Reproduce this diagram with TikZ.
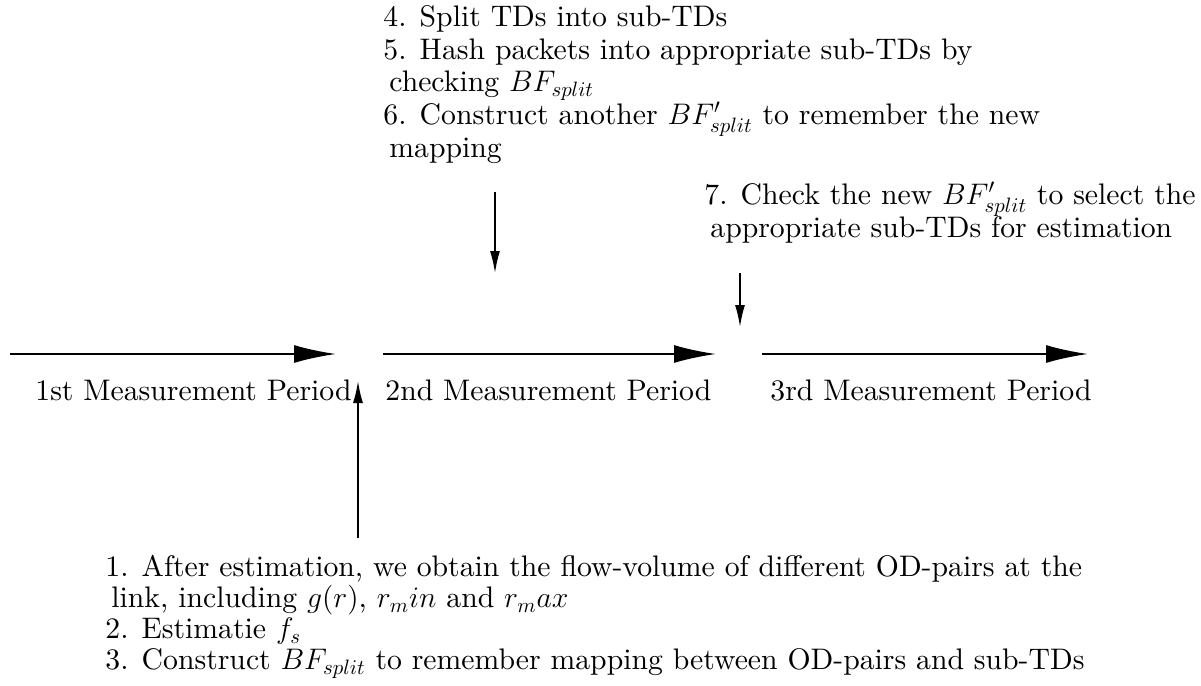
\RequirePackage{fix-cm}
\documentclass[tikz,border=0pt]{standalone}
\usepackage{fontspec}
\setmainfont{lmroman10}[Extension = .otf, UprightFont = *-regular, ItalicFont = *-italic, BoldFont = *-bold]
\usetikzlibrary{arrows.meta}

\begin{document}
\begin{tikzpicture}[x = 0.5pt, y = -0.5pt,
    every node/.style = {font = \fontsize{14.86}{16.4}\selectfont, inner sep = 0pt},
    period/.style = {anchor = base west},
    note/.style = {anchor = north west, align = left},
    timeline/.style = {-{Latex[length = 21pt, width = 9pt]}, line width = 1pt},
    pointer/.style = {-{Latex[length = 11pt, width = 5pt]}, line width = 0.8pt},
    ]
    \useasboundingbox (0,0) rectangle (1201,686);

    \node[period] (T1) at (35,400) {1st Measurement Period};
    \node[period] (T2) at (385,400) {2nd Measurement Period};
    \node[period] (T3) at (770,400) {3rd Measurement Period};

    \node[note] (S46) at (383,5) {4. Split TDs into sub-TDs\\
        5. Hash packets into appropriate sub-TDs by\\
        \hspace*{3pt}checking $BF_{split}$\\
        6. Construct another $BF'_{split}$ to remember the new\\
        \hspace*{3pt}mapping};
    \node[note] (S7) at (704,182) {7. Check the new $BF'_{split}$ to select the\\
        \hspace*{3pt}appropriate sub-TDs for estimation};
    \node[note, font = \fontsize{14.86}{15.5}\selectfont] (S13) at (105,555) {1. After estimation, we obtain the flow-volume of different OD-pairs at the\\
        \hspace*{3pt}link, including $g(r)$, $r_min$ and $r_max$\\
        2. Estimatie $f_s$\\
        3. Construct $BF_{split}$ to remember mapping between OD-pairs and sub-TDs};

    \coordinate (P1a) at (10,354);
    \coordinate (P1b) at (336,354);
    \coordinate (P2a) at (383,354);
    \coordinate (P2b) at (716,354);
    \coordinate (P3a) at (762,354);
    \coordinate (P3b) at (1088,354);
    \coordinate (U13) at (358,538);
    \coordinate (U1b) at (358,381);
    \coordinate (D46) at (495,192);
    \coordinate (D4b) at (495,273);
    \coordinate (D7) at (740,273);
    \coordinate (D7b) at (740,327);

    \path[timeline] (P1a) edge (P1b);
    \path[timeline] (P2a) edge (P2b);
    \path[timeline] (P3a) edge (P3b);
    \path[pointer] (U13) edge (U1b);
    \path[pointer] (D46) edge (D4b);
    \path[pointer] (D7) edge (D7b);
\end{tikzpicture}
\end{document}
